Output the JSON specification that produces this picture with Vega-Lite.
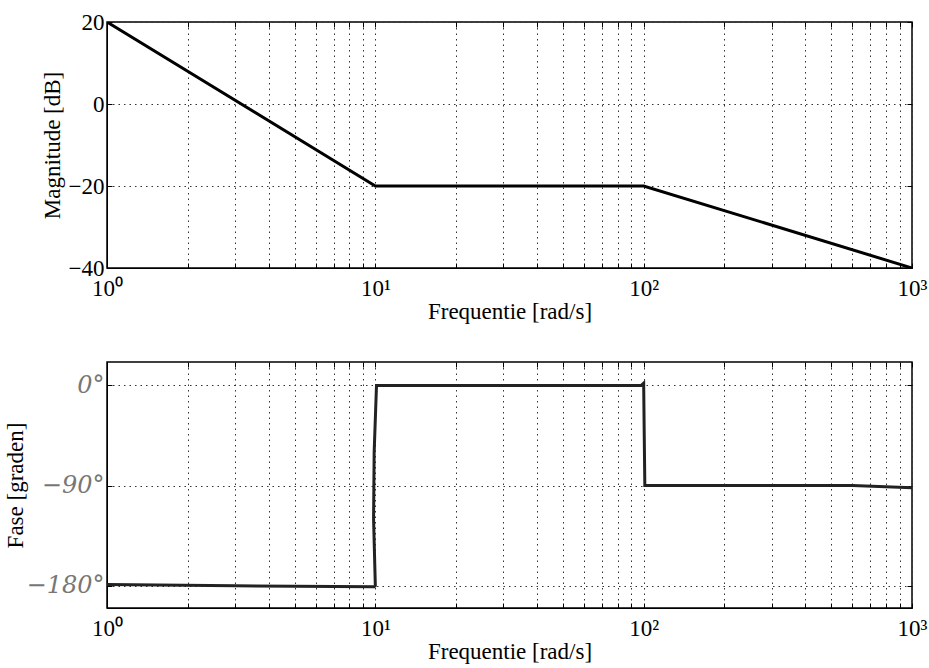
{
  "$schema": "https://vega.github.io/schema/vega-lite/v6.json",
  "background": "white",
  "padding": {"left": 3, "top": 10, "right": 16, "bottom": 0},
  "spacing": 36,
  "config": {
    "view": {"stroke": "black", "strokeWidth": 1.5},
    "font": "Liberation Serif",
    "axis": {
      "grid": true,
      "gridColor": "#333",
      "gridDash": [1.5, 4],
      "gridWidth": 1,
      "gridOpacity": 1,
      "domainColor": "black",
      "tickColor": "black",
      "tickSize": -5,
      "labelPadding": 9,
      "labelFont": "Liberation Serif",
      "labelFontSize": 23,
      "labelColor": "black",
      "titleFont": "Liberation Serif",
      "titleFontSize": 23,
      "titleFontWeight": "normal",
      "titleColor": "black"
    }
  },
  "vconcat": [
    {
      "width": 805,
      "height": 246,
      "data": {"values": [
        {"freq": 1, "mag": 20},
        {"freq": 10, "mag": -20},
        {"freq": 100, "mag": -20},
        {"freq": 1000, "mag": -40}
      ]},
      "resolve": {"axis": {"x": "independent", "y": "independent"}},
      "layer": [
        {
          "mark": {"type": "line", "color": "black", "strokeWidth": 3, "clip": true},
          "encoding": {
            "x": {
              "field": "freq", "type": "quantitative",
              "scale": {"type": "log", "domain": [1, 1000], "nice": false},
              "axis": {
                "title": "Frequentie [rad/s]",
                "titlePadding": 0,
                "labelPadding": 14,
                "values": [1,2,3,4,5,6,7,8,9,10,20,30,40,50,60,70,80,90,100,200,300,400,500,600,700,800,900,1000],
                "labelExpr": "datum.value == 1 ? '10⁰' : datum.value == 10 ? '10¹' : datum.value == 100 ? '10²' : datum.value == 1000 ? '10³' : ''",
                "labelFlush": false,
                "labelOverlap": false
              }
            },
            "y": {
              "field": "mag", "type": "quantitative",
              "scale": {"domain": [-40, 20], "nice": false},
              "axis": {
                "title": "Magnitude [dB]",
                "values": [-40, -20, 0, 20],
                "labelExpr": "replace(datum.label, '-', '−')",
                "labelPadding": 8,
                "titlePadding": 4
              }
            }
          }
        },
        {
          "mark": {"type": "line", "opacity": 0},
          "encoding": {
            "x": {
              "field": "freq", "type": "quantitative",
              "axis": {"orient": "top", "title": null, "labels": false, "grid": false, "domain": false,
                "values": [1,2,3,4,5,6,7,8,9,10,20,30,40,50,60,70,80,90,100,200,300,400,500,600,700,800,900,1000]}
            },
            "y": {
              "field": "mag", "type": "quantitative",
              "axis": {"orient": "right", "title": null, "labels": false, "grid": false, "domain": false,
                "values": [-40, -20, 0, 20]}
            }
          }
        }
      ]
    },
    {
      "width": 805,
      "height": 246,
      "data": {"values": [
        {"freq": 1, "phase": -179, "o": 1},
        {"freq": 3, "phase": -180, "o": 2},
        {"freq": 9.9, "phase": -181, "o": 3},
        {"freq": 10, "phase": -180, "o": 4},
        {"freq": 9.85, "phase": -120, "o": 5},
        {"freq": 9.9, "phase": -60, "o": 6},
        {"freq": 10.1, "phase": 0, "o": 7},
        {"freq": 40, "phase": 0, "o": 8},
        {"freq": 98, "phase": 0, "o": 9},
        {"freq": 100, "phase": 2, "o": 10},
        {"freq": 100.5, "phase": -45, "o": 11},
        {"freq": 101, "phase": -90, "o": 12},
        {"freq": 300, "phase": -90, "o": 13},
        {"freq": 600, "phase": -90, "o": 14},
        {"freq": 1000, "phase": -92, "o": 15}
      ]},
      "resolve": {"axis": {"x": "independent", "y": "independent"}},
      "layer": [
        {
          "mark": {"type": "line", "color": "#222", "strokeWidth": 3, "clip": true},
          "encoding": {
            "order": {"field": "o", "type": "quantitative"},
            "x": {
              "field": "freq", "type": "quantitative",
              "scale": {"type": "log", "domain": [1, 1000], "nice": false},
              "axis": {
                "title": "Frequentie [rad/s]",
                "titlePadding": 0,
                "labelPadding": 14,
                "values": [1,2,3,4,5,6,7,8,9,10,20,30,40,50,60,70,80,90,100,200,300,400,500,600,700,800,900,1000],
                "labelExpr": "datum.value == 1 ? '10⁰' : datum.value == 10 ? '10¹' : datum.value == 100 ? '10²' : datum.value == 1000 ? '10³' : ''",
                "labelFlush": false,
                "labelOverlap": false
              }
            },
            "y": {
              "field": "phase", "type": "quantitative",
              "scale": {"domain": [-200, 21], "nice": false},
              "axis": {
                "title": "Fase [graden]",
                "values": [-180, -90, 0],
                "labelExpr": "datum.value == 0 ? '0°' : datum.value == -90 ? '−90°' : '−180°'",
                "labelColor": "#777",
                "labelFont": "DejaVu Serif",
                "labelFontStyle": "italic",
                "labelFontSize": 24,
                "labelPadding": 8,
                "titlePadding": 4,
                "titleX": -80
              }
            }
          }
        },
        {
          "mark": {"type": "line", "opacity": 0},
          "encoding": {
            "order": {"field": "o", "type": "quantitative"},
            "x": {
              "field": "freq", "type": "quantitative",
              "axis": {"orient": "top", "title": null, "labels": false, "grid": false, "domain": false,
                "values": [1,2,3,4,5,6,7,8,9,10,20,30,40,50,60,70,80,90,100,200,300,400,500,600,700,800,900,1000]}
            },
            "y": {
              "field": "phase", "type": "quantitative",
              "axis": {"orient": "right", "title": null, "labels": false, "grid": false, "domain": false,
                "values": [-180, -90, 0]}
            }
          }
        }
      ]
    }
  ]
}
